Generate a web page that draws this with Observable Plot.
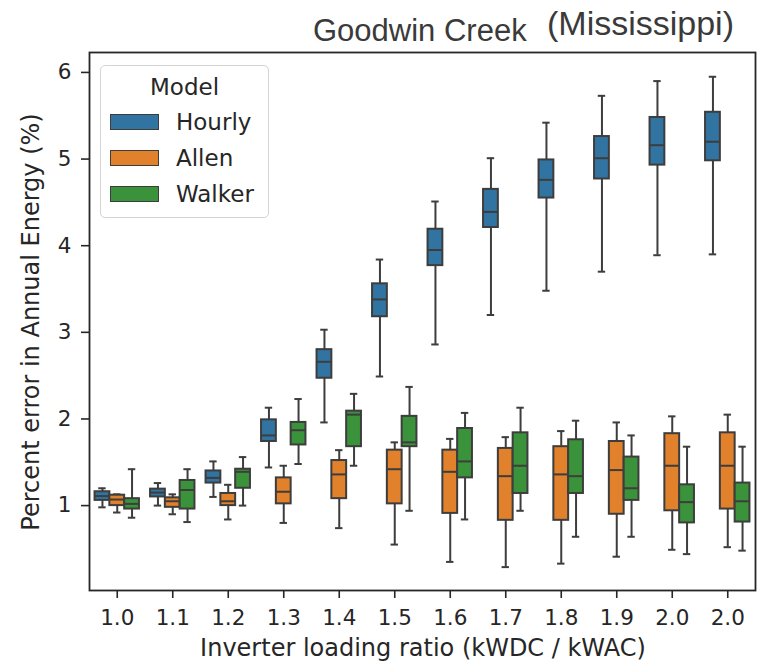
<!DOCTYPE html>
<html>
<head>
<meta charset="utf-8">
<script src="https://cdn.jsdelivr.net/npm/d3@7"></script>
<script src="https://cdn.jsdelivr.net/npm/@observablehq/plot@0.6"></script>
<style>
  body { margin: 0; background: #fff; }
  #wrap { position: relative; width: 757px; height: 663px; font-family: "DejaVu Sans", sans-serif; color: #262626; }
  #wrap svg { position: absolute; left: 0; top: 0; }
  .title { position: absolute; font-family: "Liberation Sans", Arial, sans-serif; color: #3a3a3a; line-height: 1; white-space: nowrap; }
  .axlab { position: absolute; font-family: "DejaVu Sans", sans-serif; font-size: 24px; line-height: 24px; height: 24px; white-space: nowrap; color: #262626; }
  #legend { position: absolute; left: 100px; top: 65px; width: 169px; height: 153px; border: 1.5px solid #d4d4d4; border-radius: 5px; background: rgba(255,255,255,0.85); box-sizing: border-box; }
  #legend .lt { position: absolute; left: 0; width: 100%; text-align: center; top: 10px; font-size: 23px; line-height: 1; }
  #legend .row { position: absolute; left: 9px; height: 16px; display: flex; align-items: center; font-size: 23px; }
  #legend .sw { width: 47px; height: 14px; border: 1.6px solid #3d3d3d; margin-right: 17px; box-sizing: content-box; }
</style>
</head>
<body>
<div id="wrap"></div>
<script>
// ---- data ----
const xLabels = ["1.0","1.1","1.2","1.3","1.4","1.5","1.6","1.7","1.8","1.9","2.0","2.0"];
const models = ["Hourly", "Allen", "Walker"];
const colors = ["#3274a1", "#e1812c", "#3a923a"];
// each entry: [whisker low, Q1, median, Q3, whisker high]
const hourly = [
  [0.98, 1.06, 1.11, 1.16, 1.20],
  [1.00, 1.10, 1.15, 1.19, 1.26],
  [1.10, 1.26, 1.32, 1.40, 1.51],
  [1.44, 1.74, 1.81, 1.99, 2.13],
  [1.96, 2.47, 2.66, 2.80, 3.03],
  [2.49, 3.18, 3.38, 3.56, 3.84],
  [2.86, 3.77, 3.95, 4.19, 4.51],
  [3.20, 4.21, 4.39, 4.65, 5.01],
  [3.48, 4.55, 4.76, 4.99, 5.42],
  [3.70, 4.77, 5.01, 5.26, 5.73],
  [3.89, 4.93, 5.16, 5.48, 5.90],
  [3.90, 4.98, 5.20, 5.54, 5.95]
];
const allen = [
  [0.92, 1.00, 1.07, 1.12, 1.13],
  [0.90, 0.98, 1.05, 1.09, 1.13],
  [0.84, 1.00, 1.05, 1.14, 1.24],
  [0.80, 1.02, 1.16, 1.32, 1.46],
  [0.74, 1.08, 1.36, 1.52, 1.64],
  [0.55, 1.02, 1.42, 1.64, 1.73],
  [0.35, 0.91, 1.39, 1.64, 1.77],
  [0.29, 0.83, 1.34, 1.66, 1.79],
  [0.33, 0.83, 1.36, 1.68, 1.86],
  [0.41, 0.90, 1.41, 1.74, 1.96],
  [0.49, 0.94, 1.46, 1.83, 2.03],
  [0.52, 0.96, 1.46, 1.84, 2.05]
];
const walker = [
  [0.86, 0.96, 1.02, 1.08, 1.42],
  [0.81, 0.96, 1.18, 1.29, 1.42],
  [1.00, 1.20, 1.39, 1.42, 1.56],
  [1.48, 1.70, 1.87, 1.96, 2.23],
  [1.46, 1.68, 2.05, 2.09, 2.29],
  [0.94, 1.68, 1.73, 2.03, 2.37],
  [0.84, 1.32, 1.51, 1.89, 2.07],
  [0.94, 1.14, 1.46, 1.84, 2.13],
  [0.64, 1.14, 1.34, 1.76, 1.98],
  [0.64, 1.06, 1.20, 1.56, 1.81],
  [0.44, 0.80, 1.04, 1.24, 1.68],
  [0.48, 0.81, 1.05, 1.26, 1.68]
];
const yTicks = [1, 2, 3, 4, 5, 6];
const titleMain = "Goodwin Creek";
const titleSub = "(Mississippi)";
const xTitle = "Inverter loading ratio (kWDC / kWAC)";
const yTitle = "Percent error in Annual Energy (%)";
const legendTitle = "Model";

// ---- table ----
const rows = [];
[hourly, allen, walker].forEach((series, m) =>
  series.forEach((d, i) => rows.push({cat: i, model: models[m], lo: d[0], q1: d[1], med: d[2], q3: d[3], hi: d[4]}))
);

const edge = "#3d3d3d";
const ink = "#262626";

const plot = Plot.plot({
  width: 757,
  height: 663,
  marginLeft: 89,
  marginRight: 2,
  marginTop: 52,
  marginBottom: 73,
  style: {fontFamily: "DejaVu Sans, sans-serif", fontSize: "21.5px", color: ink, background: "transparent", overflow: "visible"},
  fx: {domain: d3.range(xLabels.length), padding: 0, round: false, axis: null, label: null},
  x: {domain: models, paddingInner: 0, paddingOuter: 0.375, round: false, axis: null},
  y: {domain: [0.02, 6.23], axis: null},
  color: {domain: models, range: colors},
  marks: [
    Plot.ruleX(rows, {fx: "cat", x: "model", y1: "lo", y2: "hi", stroke: edge, strokeWidth: 2}),
    Plot.tickY(rows, {fx: "cat", x: "model", y: "lo", stroke: edge, strokeWidth: 2, insetLeft: 3.7, insetRight: 3.7}),
    Plot.tickY(rows, {fx: "cat", x: "model", y: "hi", stroke: edge, strokeWidth: 2, insetLeft: 3.7, insetRight: 3.7}),
    Plot.barY(rows, {fx: "cat", x: "model", y1: "q1", y2: "q3", fill: "model", stroke: edge, strokeWidth: 2}),
    Plot.tickY(rows, {fx: "cat", x: "model", y: "med", stroke: edge, strokeWidth: 2}),
    Plot.axisY({ticks: yTicks, tickFormat: d3.format("d"), tickSize: 8, tickPadding: 10, label: null, stroke: ink, strokeWidth: 1.6, fill: ink}),
    Plot.axisFx({anchor: "bottom", tickSize: 8, tickPadding: 11, tickFormat: i => xLabels[i], label: null, stroke: ink, strokeWidth: 1.6, fill: ink}),
    Plot.frame({facet: "super", stroke: ink, strokeWidth: 1.8})
  ]
});

const wrap = document.getElementById("wrap");
wrap.appendChild(plot);

// titles
const t1 = document.createElement("div");
t1.className = "title"; t1.textContent = titleMain;
Object.assign(t1.style, {left: "313px", top: "15px", fontSize: "31px"});
wrap.appendChild(t1);
const t2 = document.createElement("div");
t2.className = "title"; t2.textContent = titleSub;
Object.assign(t2.style, {left: "547px", top: "6px", fontSize: "34px"});
wrap.appendChild(t2);

// axis titles
const xl = document.createElement("div");
xl.className = "axlab"; xl.textContent = xTitle;
Object.assign(xl.style, {left: "423px", top: "636px", transform: "translateX(-50%)"});
wrap.appendChild(xl);
const yl = document.createElement("div");
yl.className = "axlab"; yl.textContent = yTitle;
Object.assign(yl.style, {left: "31px", top: "322px", transform: "translate(-50%,-50%) rotate(-90deg)"});
wrap.appendChild(yl);

// legend
const lg = document.createElement("div");
lg.id = "legend";
const lt = document.createElement("div");
lt.className = "lt"; lt.textContent = legendTitle;
lg.appendChild(lt);
models.forEach((m, k) => {
  const r = document.createElement("div");
  r.className = "row";
  r.style.top = (48 + 36 * k) + "px";
  const sw = document.createElement("div");
  sw.className = "sw";
  sw.style.background = colors[k];
  const tx = document.createElement("span");
  tx.textContent = m;
  r.appendChild(sw); r.appendChild(tx);
  lg.appendChild(r);
});
wrap.appendChild(lg);
</script>
</body>
</html>
